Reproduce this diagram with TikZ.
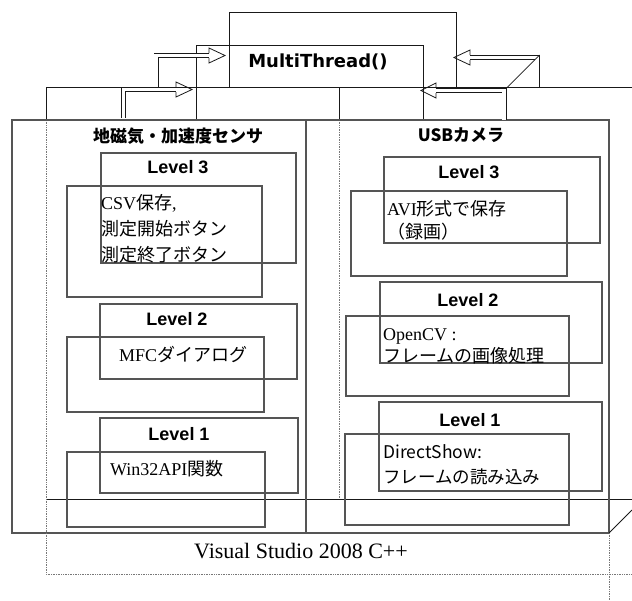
\documentclass[tikz,border=0pt]{standalone}
\usepackage{fontspec}
\setmainfont{Liberation Serif}
\newfontfamily\jpfont{Noto Sans CJK JP}
\newfontfamily\lvfont{Liberation Sans}
\newfontfamily\mtfont{DejaVu Sans}
\usetikzlibrary{arrows.meta, calc}
\definecolor{EdgeBlack}{RGB}{25,25,25}
\definecolor{EdgeGray}{RGB}{85,85,85}
\definecolor{HideGray}{RGB}{120,120,120}
\newcommand{\jp}[1]{{\jpfont #1}}
\tikzset{
  %% wireframe edges
  face/.style    = {draw = EdgeBlack, line width = 1pt},
  sideface/.style = {draw = EdgeGray, line width = 1.4pt},
  hidden/.style  = {draw = HideGray, line width = 0.7pt, densely dotted},
  lvbox/.style   = {draw = EdgeGray, line width = 1.2pt},
  %% texts
  mtlabel/.style = {inner sep = 0pt, font = \mtfont\bfseries\fontsize{18}{20}\selectfont},
  paneltitle/.style = {inner sep = 0pt, font = \jpfont\bfseries\fontsize{17}{20}\selectfont},
  lvtitle/.style = {inner sep = 0pt, font = \lvfont\bfseries\fontsize{18}{20}\selectfont},
  body/.style    = {inner sep = 0pt, anchor = west, align = left, font = \fontsize{18}{26}\selectfont},
  vslabel/.style = {inner sep = 0pt, font = \fontsize{22}{24}\selectfont},
  %% hollow block arrows
  shaft/.style   = {draw = EdgeBlack, line width = 0.8pt, double = white, double distance = 3.4pt},
  arrhead/.style = {draw = EdgeBlack, line width = 0.8pt, line join = miter},
}

\begin{document}
\begin{tikzpicture}[x = 1pt, y = -1pt]
  \useasboundingbox (0,0) rectangle (632,600);

  %% -- MultiThread box ------------------------------------
  \draw[face] (229,87) -- (229,12) -- (456,12) -- (456,87);
  \draw[face] (196,45) rectangle (423,120);
  \node[mtlabel] (mt) at (318,62) {MultiThread()};

  %% -- back panel -----------------------------------------
  \draw[face] (46,120) -- (46,87) -- (632,87);
  \draw[face] (46,499) -- (632,499);
  \draw[face] (339,87) -- (339,120);
  \draw[hidden] (46,120) -- (46,499);
  \draw[hidden] (339,120) -- (339,499);

  %% -- front panel ----------------------------------------
  \draw[sideface] (12,120) rectangle (609,533);
  \draw[sideface] (306,120) -- (306,533);
  \draw[face] (609,533) -- (632,510);

  %% -- base (dotted) --------------------------------------
  \draw[hidden] (46,499) -- (46,574) -- (632,574);
  \draw[hidden] (609,533) -- (609,600);
  \node[vslabel] (vs) at (301,551) {Visual Studio 2008 C++};

  %% -- panel titles ---------------------------------------
  \node[paneltitle] (sensor) at (178,136) {地磁気・加速度センサ};
  \node[paneltitle] (camera) at (461,135) {USBカメラ};

  %% -- sensor side levels ---------------------------------
  \draw[lvbox] (101,153) rectangle (296,263);
  \draw[lvbox] (67,186)  rectangle (262,297);
  \node[lvtitle] (sL3) at (178,167) {Level 3};
  \node[body] (sL3txt) at (101,229)
    {CSV\jp{保存},\\\jp{測定開始ボタン}\\\jp{測定終了ボタン}};

  \draw[lvbox] (100,304) rectangle (297,379);
  \draw[lvbox] (67,337)  rectangle (264,412);
  \node[lvtitle] (sL2) at (177,319) {Level 2};
  \node[body] (sL2txt) at (119,355) {MFC\jp{ダイアログ}};

  \draw[lvbox] (100,418) rectangle (298,493);
  \draw[lvbox] (67,452)  rectangle (265,527);
  \node[lvtitle] (sL1) at (179,434) {Level 1};
  \node[body] (sL1txt) at (110,469) {Win32API\jp{関数}};

  %% -- camera side levels ---------------------------------
  \draw[lvbox] (384,157) rectangle (600,243);
  \draw[lvbox] (351,191) rectangle (567,276);
  \node[lvtitle] (cL3) at (469,172) {Level 3};
  \node[body, font = \fontsize{18}{23}\selectfont] (cL3txt) at (387,220.5)
    {AVI\jp{形式で保存}\\\jp{（録画）}};

  \draw[lvbox] (380,282) rectangle (602,363);
  \draw[lvbox] (346,316) rectangle (569,396);
  \node[lvtitle] (cL2) at (468,300) {Level 2};
  \node[body, font = \fontsize{18}{22}\selectfont] (cL2txt) at (383,346)
    {OpenCV :\\\jp{フレームの画像処理}};

  \draw[lvbox] (379,402) rectangle (602,491);
  \draw[lvbox] (345,434) rectangle (569,525);
  \node[lvtitle] (cL1) at (470,420) {Level 1};
  \node[body, font = \jpfont\fontsize{17.5}{25}\selectfont] (cL1txt) at (383,464.5)
    {DirectShow:\\フレームの読み込み};

  %% -- block arrows to MultiThread ------------------------
  \coordinate (srcA) at (123.5,118);  \coordinate (baseA) at (176,89.5);
  \coordinate (tipA) at (192,89.5);
  \coordinate (srcB) at (156,87);     \coordinate (baseB) at (209,55.5);
  \coordinate (tipB) at (225,55.5);
  \coordinate (srcC) at (504,120);    \coordinate (baseC) at (436,90.5);
  \coordinate (tipC) at (421,90.5);
  \coordinate (srcD) at (537,87);     \coordinate (baseD) at (470,57.5);
  \coordinate (tipD) at (454,57.5);

  \foreach \s/\b/\t in {srcA/baseA/tipA, srcB/baseB/tipB,
                        srcC/baseC/tipC, srcD/baseD/tipD} {
    \draw[shaft] (\s) |- (\b);
    \draw[arrhead] ($(\b)+(0,-2.5)$) -- ++(0,-5) -- (\t)
      -- ($(\b)+(0,7.5)$) -- ++(0,-5);
  }
  \draw[face, line width = 0.7pt] (506.5,88) -- (539.5,55);

\end{tikzpicture}
\end{document}
